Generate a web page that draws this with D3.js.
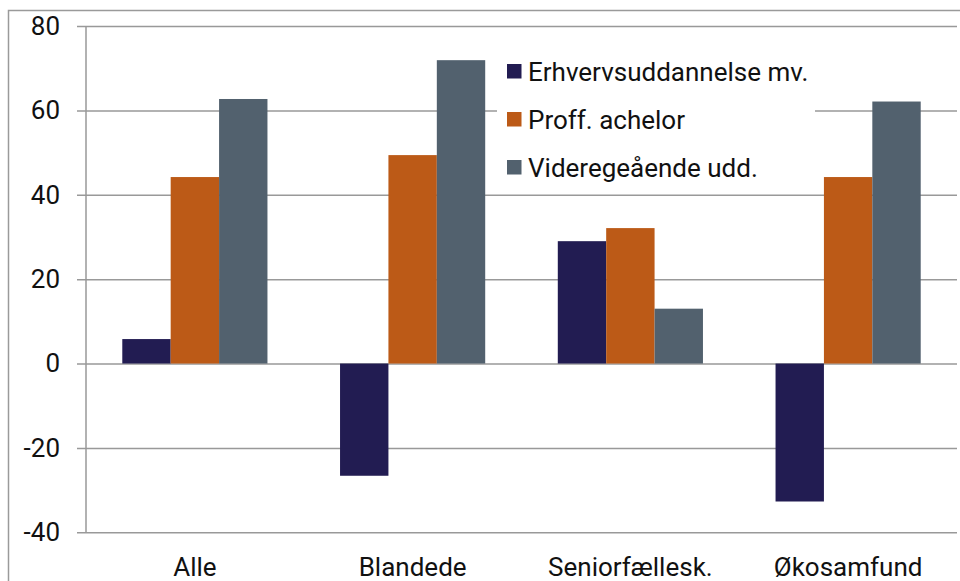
<!DOCTYPE html>
<html>
<head>
<meta charset="utf-8">
<script src="https://cdn.jsdelivr.net/npm/d3@7"></script>
<style>
  html, body { margin: 0; padding: 0; background: #fff; }
  svg { display: block; }
  text { font-family: Roboto, "Noto Sans", sans-serif; fill: #111; }
</style>
</head>
<body>
<svg id="chart" width="960" height="581"></svg>
<script>
// Categories, series and axis ticks
const categories = ["Alle", "Blandede", "Seniorfællesk.", "Økosamfund"];
const seriesNames = ["Erhvervsuddannelse mv.", "Proff. achelor", "Videregeående udd."];
const erhverv = [5.8, -26.6, 29.0, -32.7];
const proff = [44.2, 49.4, 32.1, 44.2];
const videre = [62.7, 71.9, 13.0, 62.1];
const yTicks = [-40, -20, 0, 20, 40, 60, 80];
const colors = ["#221c52", "#bc5a17", "#52616e"];

const seriesValues = [erhverv, proff, videre];

const svg = d3.select("#chart");
const plot = { left: 86, right: 957, top: 26, bottom: 532.3 };
const fontSize = 26;

// outer frame (only top and left edges fall inside the view)
svg.append("rect")
  .attr("x", 8.5).attr("y", 10.5)
  .attr("width", 1200).attr("height", 1200)
  .attr("fill", "none").attr("stroke", "#9a9a9a").attr("stroke-width", 1.5);

const y = d3.scaleLinear().domain([-40, 80]).range([plot.bottom, plot.top]);
const x0 = d3.scaleBand().domain(categories)
  .range([plot.left, plot.right]).paddingInner(1/3).paddingOuter(1/6);
const x1 = d3.scaleBand().domain(d3.range(seriesNames.length))
  .range([0, x0.bandwidth()]);

// horizontal gridlines with outside ticks
const yAxis = d3.axisLeft(y).tickValues(yTicks)
  .tickSize(-(plot.right - plot.left)).tickPadding(26)
  .tickFormat(d => String(d));
const gy = svg.append("g")
  .attr("transform", `translate(${plot.left},0)`)
  .call(yAxis);
gy.select(".domain").remove();
gy.selectAll(".tick line")
  .attr("x1", -9)
  .attr("stroke", "#999").attr("stroke-width", 1.5);
gy.selectAll(".tick text")
  .attr("font-size", fontSize).attr("fill", "#111")
  .style("font-family", "Roboto, sans-serif");

// vertical axis line
svg.append("line")
  .attr("x1", plot.left).attr("x2", plot.left)
  .attr("y1", plot.top).attr("y2", plot.bottom)
  .attr("stroke", "#999").attr("stroke-width", 1.5);

// legend background hides the gridlines behind it
svg.append("rect")
  .attr("x", 497).attr("y", 40).attr("width", 318).attr("height", 150)
  .attr("fill", "#fff");

// grouped bars
const groups = svg.append("g").selectAll("g")
  .data(categories)
  .join("g")
  .attr("transform", d => `translate(${x0(d)},0)`);

groups.selectAll("rect")
  .data((d, i) => seriesValues.map((vals, s) => ({ s, v: vals[i] })))
  .join("rect")
  .attr("x", d => x1(d.s))
  .attr("width", x1.bandwidth())
  .attr("y", d => y(Math.max(0, d.v)))
  .attr("height", d => Math.abs(y(d.v) - y(0)))
  .attr("fill", d => colors[d.s]);

// category labels
svg.append("g").selectAll("text")
  .data(categories)
  .join("text")
  .attr("x", d => x0(d) + x0.bandwidth() / 2)
  .attr("y", 576)
  .attr("text-anchor", "middle")
  .attr("font-size", fontSize)
  .text(d => d);

// legend
const legend = svg.append("g").attr("transform", "translate(507,64)");
const li = legend.selectAll("g").data(seriesNames).join("g")
  .attr("transform", (d, i) => `translate(0,${i * 48})`);
li.append("rect").attr("width", 14.5).attr("height", 14.5)
  .attr("fill", (d, i) => colors[i]);
li.append("text").attr("x", 21).attr("y", 16.5)
  .attr("font-size", fontSize).text(d => d);
</script>
</body>
</html>
